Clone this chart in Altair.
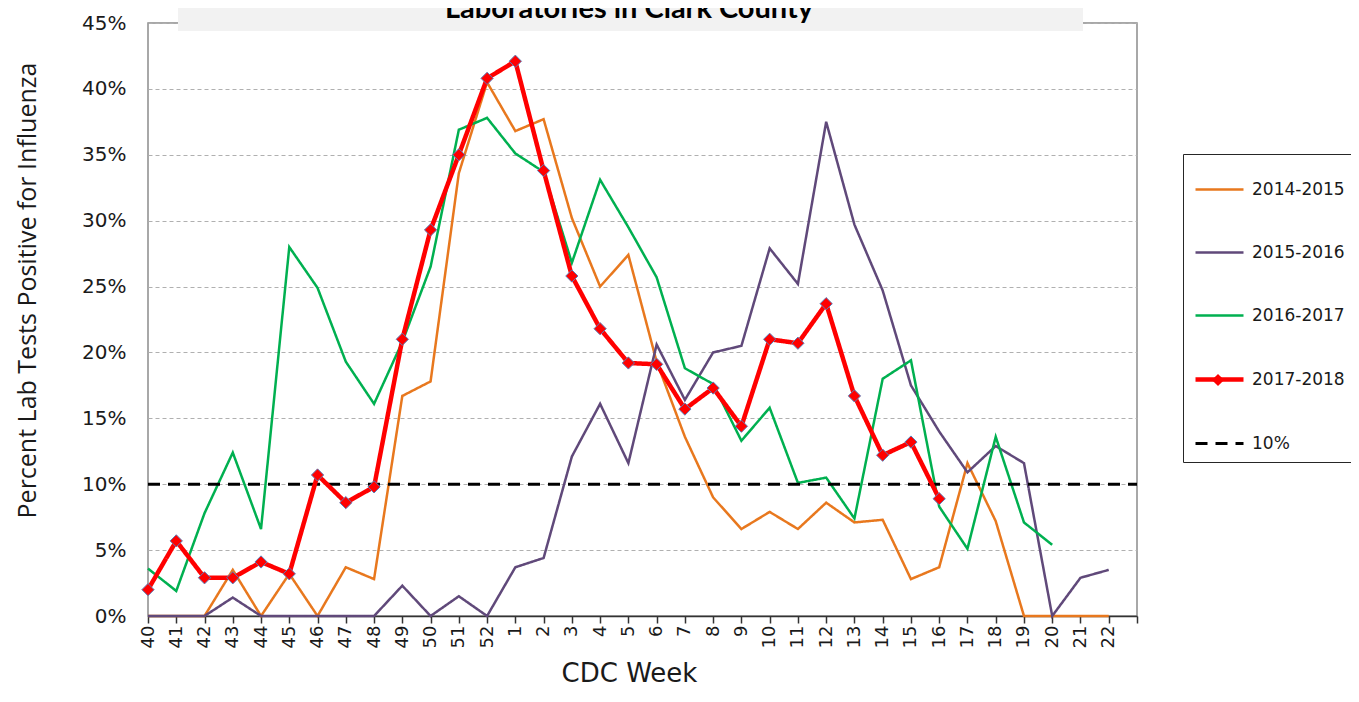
import json
import altair as alt
import pandas as pd

# ---------------- data ----------------
weeks = [40, 41, 42, 43, 44, 45, 46, 47, 48, 49, 50, 51, 52,
         1, 2, 3, 4, 5, 6, 7, 8, 9, 10, 11, 12, 13, 14, 15, 16, 17, 18, 19, 20, 21, 22]

s2014_2015 = [0, 0, 0, 3.5, 0, 3.2, 0, 3.7, 2.8, 16.7, 17.8, 33.6, 40.5,
              36.8, 37.7, 30.2, 25.0, 27.4, 19.3, 13.6, 9.0, 6.6, 7.9, 6.6, 8.6,
              7.1, 7.3, 2.8, 3.7, 11.6, 7.2, 0, 0, 0, 0]

s2015_2016 = [0, 0, 0, 1.4, 0, 0, 0, 0, 0, 2.3, 0, 1.5, 0,
              3.7, 4.4, 12.1, 16.1, 11.6, 20.6, 16.4, 20.0, 20.5, 27.9, 25.2, 37.5,
              29.7, 24.7, 17.5, 14.0, 10.9, 12.9, 11.6, 0, 2.9, 3.5]

s2016_2017 = [3.6, 1.9, 7.8, 12.4, 6.6, 28.0, 24.9, 19.3, 16.1, 20.8, 26.5, 36.9, 37.8,
              35.1, 33.7, 26.8, 33.1, 29.5, 25.7, 18.8, 17.6, 13.3, 15.8, 10.1, 10.5,
              7.4, 18.0, 19.4, 8.3, 5.1, 13.6, 7.1, 5.4, None, None]

s2017_2018 = [2.0, 5.7, 2.9, 2.9, 4.1, 3.2, 10.7, 8.6, 9.8, 21.0, 29.3, 35.0, 40.8,
              42.1, 33.8, 25.8, 21.8, 19.2, 19.1, 15.7, 17.3, 14.4, 21.0, 20.7, 23.7,
              16.7, 12.2, 13.2, 8.9, None, None, None, None, None, None]

threshold_pct = 10
y_ticks = list(range(0, 46, 5))
series_names = ["2014-2015", "2015-2016", "2016-2017", "2017-2018", "10%"]
series_colors = ["#E8781E", "#60497A", "#00B050", "#FF0000", "#000000"]
title_text = "Laboratories in Clark County"

# ---------------- tables ----------------
week_labels = [str(w) for w in weeks]
n = len(weeks)
rows = []
for name, vals in zip(series_names[:4], [s2014_2015, s2015_2016, s2016_2017, s2017_2018]):
    for i, v in enumerate(vals):
        if v is not None:
            rows.append({"idx": i, "week": week_labels[i], "series": name, "value": v})
df = pd.DataFrame(rows)
thr = pd.DataFrame({"idx": [0, n], "series": ["10%", "10%"], "value": [threshold_pct, threshold_pct]})

label_expr = json.dumps(week_labels + [""]) + "[datum.value]"

x_enc = alt.X(
    "idx:Q",
    scale=alt.Scale(domain=[0, n], nice=False, zero=False),
    axis=alt.Axis(
        title="CDC Week", values=list(range(n + 1)), labelExpr=label_expr,
        labelAngle=270, labelFontSize=18, labelFont="DejaVu Sans", labelColor="#1a1a1a",
        labelPadding=2, labelOverlap=False, labelFlush=False,
        tickSize=7, tickColor="#333333", tickWidth=1.5,
        domainColor="#333333", domainWidth=1.5, grid=False,
        titleFont="DejaVu Sans", titleFontSize=26, titleFontWeight="normal", titleColor="#1a1a1a",
        titleX=481, titleY=57, titleBaseline="middle", titleAlign="center",
    ),
)
y_enc = alt.Y(
    "value:Q",
    scale=alt.Scale(domain=[0, 45], nice=False),
    axis=alt.Axis(
        title="Percent Lab Tests Positive for Influenza", values=y_ticks,
        labelExpr="datum.value + '%'", labelFontSize=20, labelFont="DejaVu Sans",
        labelColor="#1a1a1a", ticks=False, labelPadding=22, domain=False,
        grid=True, gridDash=[4, 3], gridColor="#b0b0b0", gridWidth=1,
        titleFont="Open Sans", titleFontSize=25, titleFontWeight="normal", titleColor="#1a1a1a",
        titleX=-121, titleY=267, titleAngle=270, titleAlign="center", titleBaseline="middle",
    ),
)

legend = alt.Legend(
    title=None, orient="none", legendX=1035, legendY=131,
    symbolType="stroke", symbolSize=2304, labelFontSize=17, labelFont="DejaVu Sans",
    labelColor="#1a1a1a", padding=10, rowPadding=29, labelOffset=6, strokeColor="#262626",
)

enc = dict(
    x=x_enc,
    y=y_enc,
    color=alt.Color("series:N", scale=alt.Scale(domain=series_names, range=series_colors), legend=legend),
    strokeDash=alt.StrokeDash("series:N", scale=alt.Scale(domain=series_names,
                              range=[[1, 0], [1, 0], [1, 0], [1, 0], [12, 8]]), legend=legend),
    strokeWidth=alt.StrokeWidth("series:N", scale=alt.Scale(type="ordinal", domain=series_names,
                                range=[2.5, 2.5, 2.5, 4.5, 3]), legend=legend),
)

thin = alt.Chart(df).transform_filter(alt.datum.series != "2017-2018").mark_line().encode(**enc)
thr_layer = alt.Chart(thr).mark_line().encode(**enc)
red = alt.Chart(df).transform_filter(alt.datum.series == "2017-2018").mark_line().encode(**enc)

legend2 = alt.Legend(
    title=None, orient="none", legendX=1063, legendY=350, labelExpr="''", padding=0,
    symbolSize=150, symbolFillColor="#FF0000", symbolStrokeColor="#5B7DB8", symbolStrokeWidth=1,
    labelFontSize=10,
)
pts = (
    alt.Chart(df)
    .transform_filter(alt.datum.series == "2017-2018")
    .transform_calculate(mk="'marker'")
    .mark_point(shape="diamond", filled=True, size=150, fill="#FF0000",
                stroke="#5B7DB8", strokeWidth=1, opacity=1)
    .encode(x=x_enc, y=y_enc,
            shape=alt.Shape("mk:N", scale=alt.Scale(domain=["marker"], range=["diamond"]), legend=legend2))
)

box = alt.Chart(pd.DataFrame({"t": [title_text]})).mark_rect(color="#F2F2F2").encode(
    x=alt.value(30), x2=alt.value(935), y=alt.value(-15), y2=alt.value(8)
)
ttl = alt.Chart(pd.DataFrame({"t": [title_text]})).mark_text(
    font="Lato", fontSize=29, fontWeight="bold", color="#000000", align="center", baseline="alphabetic"
).encode(text="t:N", x=alt.value(481), y=alt.value(-5))

chart = (
    alt.layer(thin, thr_layer, red, pts, box, ttl)
    .properties(width=989, height=593,
                autosize=alt.AutoSizeParams(type="none"),
                padding={"left": 140, "top": 15, "right": 214, "bottom": 72})
    .configure(background="white")
    .configure_view(stroke="#8c8c8c", strokeWidth=1.5)
)

chart.save("out.html", embed_options={"renderer": "svg", "actions": False})
